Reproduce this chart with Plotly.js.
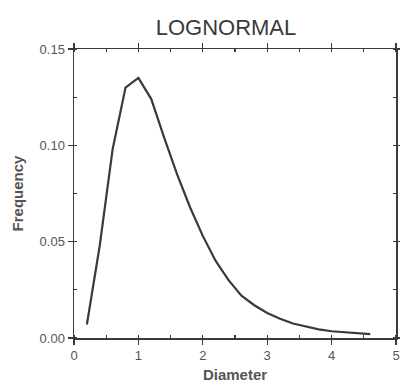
<!DOCTYPE html>
<html><head><meta charset="utf-8">
<script src="https://cdn.plot.ly/plotly-3.0.1.min.js"></script>
<style>html,body{margin:0;padding:0;background:#fff}#chart{width:400px;height:383px}</style>
</head><body><div id="chart"></div>
<script>
var diameter = [0.2,0.4,0.6,0.8,1.0,1.2,1.4,1.6,1.8,2.0,2.2,2.4,2.6,2.8,3.0,3.2,3.4,3.6,3.8,4.0,4.2,4.4,4.6];
var frequency = [0.007,0.048,0.098,0.130,0.135,0.124,0.104,0.085,0.068,0.053,0.040,0.030,0.022,0.017,0.013,0.010,0.0075,0.006,0.0045,0.0035,0.003,0.0025,0.002];
var titleText = "LOGNORMAL";
var xTitle = "Diameter";
var yTitle = "Frequency";

var ink = "#3a3a3a";
var fam = "Liberation Sans, Arial, sans-serif";
var trace = {x: diameter, y: frequency, type: "scatter", mode: "lines",
  line: {color: ink, width: 2.2}, hoverinfo: "skip"};
var axisBase = {showgrid: false, zeroline: false, showline: true, linecolor: ink, linewidth: 1.5,
  mirror: "ticks", ticks: "outside", ticklen: 5, tickwidth: 1.2, tickcolor: ink,
  tickfont: {family: fam, size: 13, color: "#555"}};
var layout = {
  width: 400, height: 383,
  margin: {l: 74, r: 4, t: 49, b: 45},
  paper_bgcolor: "#fff", plot_bgcolor: "#fff", showlegend: false,
  title: {text: titleText, x: 0.472, xanchor: "center", xref: "paper", y: 0.93, yanchor: "middle",
    font: {family: fam, size: 22, color: "#3a3a3a"}},
  xaxis: Object.assign({}, axisBase, {range: [0, 5], dtick: 1, tick0: 0,
    minor: {dtick: 0.5, ticks: "inside", ticklen: 3, tickcolor: ink},
    title: {text: "<b>" + xTitle + "</b>", standoff: 7,
      font: {family: fam, size: 15, color: "#555"}}}),
  yaxis: Object.assign({}, axisBase, {range: [0, 0.15], dtick: 0.05, tick0: 0, tickformat: ".2f",
    minor: {dtick: 0.025, ticks: "inside", ticklen: 3, tickcolor: ink},
    title: {text: "<b>" + yTitle + "</b>", standoff: 12,
      font: {family: fam, size: 15, color: "#555"}}})
};
Plotly.newPlot("chart", [trace], layout, {staticPlot: true, displayModeBar: false});
</script></body></html>
